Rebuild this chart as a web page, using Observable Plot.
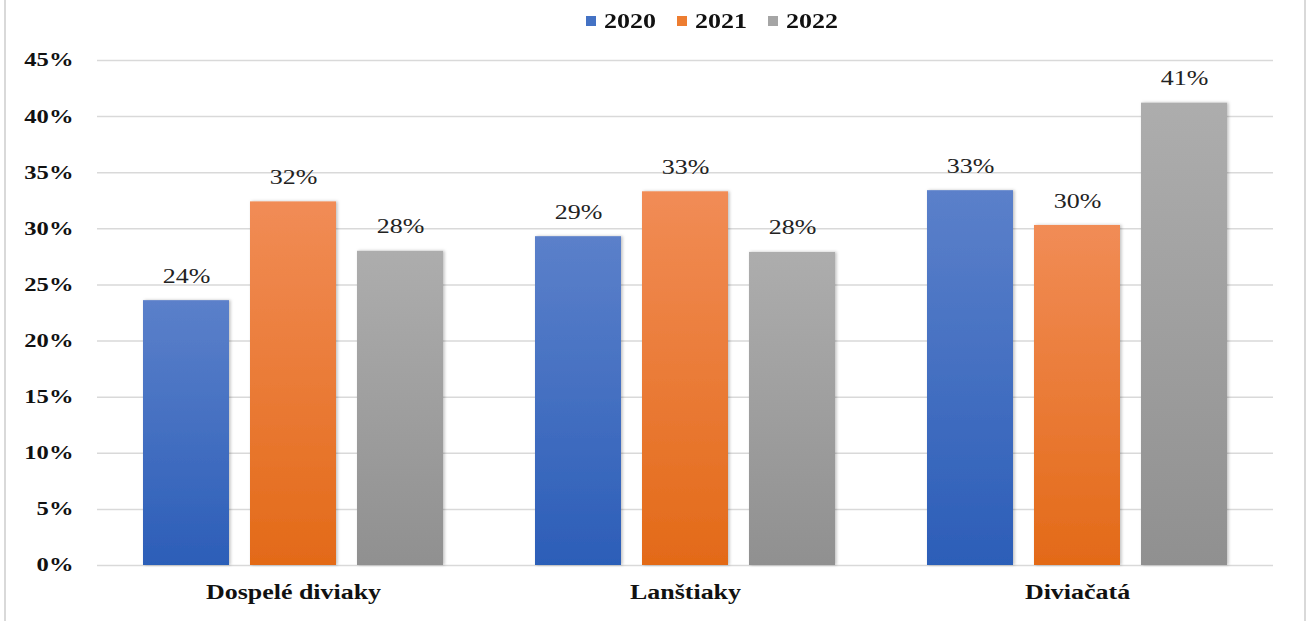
<!DOCTYPE html>
<html>
<head>
<meta charset="utf-8">
<script src="https://cdn.jsdelivr.net/npm/d3@7"></script>
<script src="https://cdn.jsdelivr.net/npm/@observablehq/plot@0.6"></script>
<style>
  body { margin: 0; background: #fff; }
  #wrap { position: relative; width: 1311px; height: 621px; overflow: hidden; background: #fff; font-family: "Liberation Serif", "Times New Roman", serif; }
  #legend { position: absolute; left: 586px; top: 8px; height: 26px; display: flex; align-items: center; font-weight: bold; font-size: 20px; color: #111; }
  .item { display: flex; align-items: center; margin-right: 32px; }
  .sw { width: 10px; height: 10px; margin-right: 8px; }
  .lab { display: inline-block; transform: scaleX(1.3); transform-origin: left center; width: 41px; white-space: nowrap; }
  #chart { position: absolute; left: 0; top: 42px; }
  .bl { position: absolute; top: 0; bottom: 0; width: 2px; background: #d9d9d9; }
</style>
</head>
<body>
<div id="wrap">
  <div class="bl" style="left:4px"></div>
  <div class="bl" style="left:1304px"></div>
  <div id="legend"></div>
  <div id="chart"></div>
</div>
<script>
const categories = ["Dospelé diviaky", "Lanštiaky", "Diviačatá"];
const years = ["2020", "2021", "2022"];
const values2020 = [23.6, 29.3, 33.4];
const values2021 = [32.4, 33.3, 30.3];
const values2022 = [28.0, 27.9, 41.2];
const yTicks = [0, 5, 10, 15, 20, 25, 30, 35, 40, 45];
const swatch = ["#4472C4", "#ED7D31", "#A5A5A5"];
const gradTop = ["#5B80CA", "#F18C56", "#ADADAD"];
const gradBottom = ["#2C5EB8", "#E36A18", "#909090"];

const series = [values2020, values2021, values2022];
const data = [];
categories.forEach((c, i) => years.forEach((y, j) => data.push({cat: c, year: y, value: series[j][i]})));

const legend = document.getElementById("legend");
years.forEach((y, j) => {
  const it = document.createElement("div"); it.className = "item";
  const sw = document.createElement("div"); sw.className = "sw"; sw.style.background = swatch[j];
  const lb = document.createElement("span"); lb.className = "lab"; lb.textContent = y;
  it.appendChild(sw); it.appendChild(lb); legend.appendChild(it);
});

const chart = Plot.plot({
  width: 1311,
  height: 579,
  marginLeft: 96,
  marginRight: 37,
  marginTop: 18,
  marginBottom: 56,
  style: { fontFamily: "Liberation Serif, Times New Roman, serif", background: "transparent" },
  fx: { domain: categories, padding: 0, label: null },
  x: { domain: years, paddingInner: 0.194, paddingOuter: 0.415, axis: null },
  y: { domain: [0, 45], label: null },
  color: { domain: years, range: years.map((y, j) => `url(#grad${j})`) },
  marks: [
    Plot.gridY(yTicks, { stroke: "#d9d9d9", strokeOpacity: 1, strokeWidth: 1.5 }),
    Plot.axisY(yTicks, { tickSize: 0, tickPadding: 24, tickFormat: d => d + "%", fontSize: 18.5, fontWeight: "bold", fill: "#111", className: "tk" }),
    Plot.axisFx({ anchor: "bottom", tickSize: 0, tickPadding: 18, fontSize: 22, fontWeight: "bold", fill: "#111", label: null, className: "fxt" }),
    Plot.barY(data, { fx: "cat", x: "year", y: "value", fill: "year", className: "bars" }),
    Plot.text(data, { fx: "cat", x: "year", y: "value", text: d => Math.round(d.value) + "%", dy: -25, fontSize: 22, fill: "#222", lineAnchor: "middle", className: "vl" })
  ]
});

// gradients & shadow
const svg = d3.select(chart);
const defs = svg.insert("defs", ":first-child");
years.forEach((y, j) => {
  const g = defs.append("linearGradient").attr("id", `grad${j}`).attr("x1", 0).attr("y1", 0).attr("x2", 0).attr("y2", 1);
  g.append("stop").attr("offset", "0%").attr("stop-color", gradTop[j]);
  g.append("stop").attr("offset", "100%").attr("stop-color", gradBottom[j]);
});
const f = defs.append("filter").attr("id", "shadow").attr("x", "-10%").attr("y", "-10%").attr("width", "130%").attr("height", "120%");
f.append("feDropShadow").attr("dx", 1.5).attr("dy", 0).attr("stdDeviation", 1.5).attr("flood-color", "#000").attr("flood-opacity", 0.25);
svg.selectAll("g.bars rect").attr("filter", "url(#shadow)");

// horizontal stretch of texts to mimic the reference
function stretch(sel, s) {
  sel.each(function() {
    const t = this.getAttribute("transform");
    if (t) {
      this.setAttribute("transform", t + ` scale(${s},1)`);
    } else {
      const x = +(this.getAttribute("x") || 0), y = +(this.getAttribute("y") || 0);
      this.removeAttribute("x"); this.removeAttribute("y");
      this.setAttribute("transform", `translate(${x},${y}) scale(${s},1)`);
    }
  });
}
stretch(svg.selectAll("g.tk text"), 1.33);
stretch(svg.selectAll("g.vl text"), 1.18);
stretch(svg.selectAll("g.fxt text"), 1.18);

document.getElementById("chart").appendChild(chart);
</script>
</body>
</html>
